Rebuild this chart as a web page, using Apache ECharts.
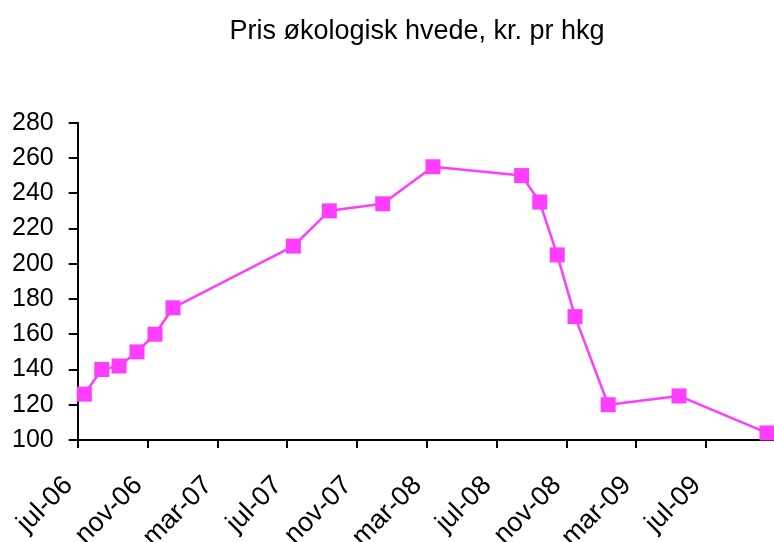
<!DOCTYPE html>
<html>
<head>
<meta charset="utf-8">
<script src="https://cdn.jsdelivr.net/npm/echarts@6/dist/echarts.min.js"></script>
<style>html,body{margin:0;padding:0;background:#fff;}#c{width:774px;height:542px;}</style>
</head>
<body>
<div id="c"></div>
<script>
// months since jul-06
var monthOffsets = [0.38, 1.38, 2.37, 3.40, 4.43, 5.46, 12.36, 14.42, 17.48, 20.36, 25.44, 26.48, 27.48, 28.50, 30.40, 34.46, 39.50];
var prices = [126, 140, 142, 150, 160, 175, 210, 230, 234, 255, 250, 235, 205, 170, 120, 125, 104];
var tickLabels = ['jul-06', 'nov-06', 'mar-07', 'jul-07', 'nov-07', 'mar-08', 'jul-08', 'nov-08', 'mar-09', 'jul-09'];

var points = monthOffsets.map(function (m, i) { return [m, prices[i]]; });
var chart = echarts.init(document.getElementById('c'));
var font = 'Liberation Sans, Arial, sans-serif';
chart.setOption({
  animation: false,
  backgroundColor: '#ffffff',
  title: {
    text: 'Pris økologisk hvede, kr. pr hkg',
    left: 412,
    top: 13,
    textAlign: 'center',
    textStyle: { fontFamily: font, fontSize: 27, fontWeight: 'normal', color: '#000' }
  },
  grid: { left: 77.7, top: 122.7, bottom: 102, right: -1.7, containLabel: false, outerBoundsMode: 'none' },
  xAxis: {
    type: 'value',
    min: 0,
    max: 40,
    interval: 4,
    axisLine: { show: true, lineStyle: { color: '#000', width: 2 } },
    axisTick: { show: true, length: 8, lineStyle: { color: '#000', width: 2 } },
    splitLine: { show: false },
    axisLabel: {
      rotate: 45,
      margin: 32,
      showMaxLabel: false,
      fontFamily: font,
      fontSize: 27,
      color: '#000',
      formatter: function (v) {
        var t = tickLabels[Math.round(v / 4)];
        return t ? t + '{s|}' : '';
      },
      rich: { s: { width: 13 } }
    }
  },
  yAxis: {
    type: 'value',
    min: 100,
    max: 280,
    interval: 20,
    axisLine: { show: true, lineStyle: { color: '#000', width: 2 } },
    axisTick: { show: true, length: 9, lineStyle: { color: '#000', width: 2 } },
    splitLine: { show: false },
    axisLabel: { margin: 24, fontFamily: font, fontSize: 25, color: '#000' }
  },
  series: [{
    type: 'line',
    data: points,
    symbol: 'rect',
    symbolSize: 15,
    clip: false,
    lineStyle: { color: '#FF3DFF', width: 2.5 },
    itemStyle: { color: '#FF3DFF' }
  }]
});
</script>
</body>
</html>
